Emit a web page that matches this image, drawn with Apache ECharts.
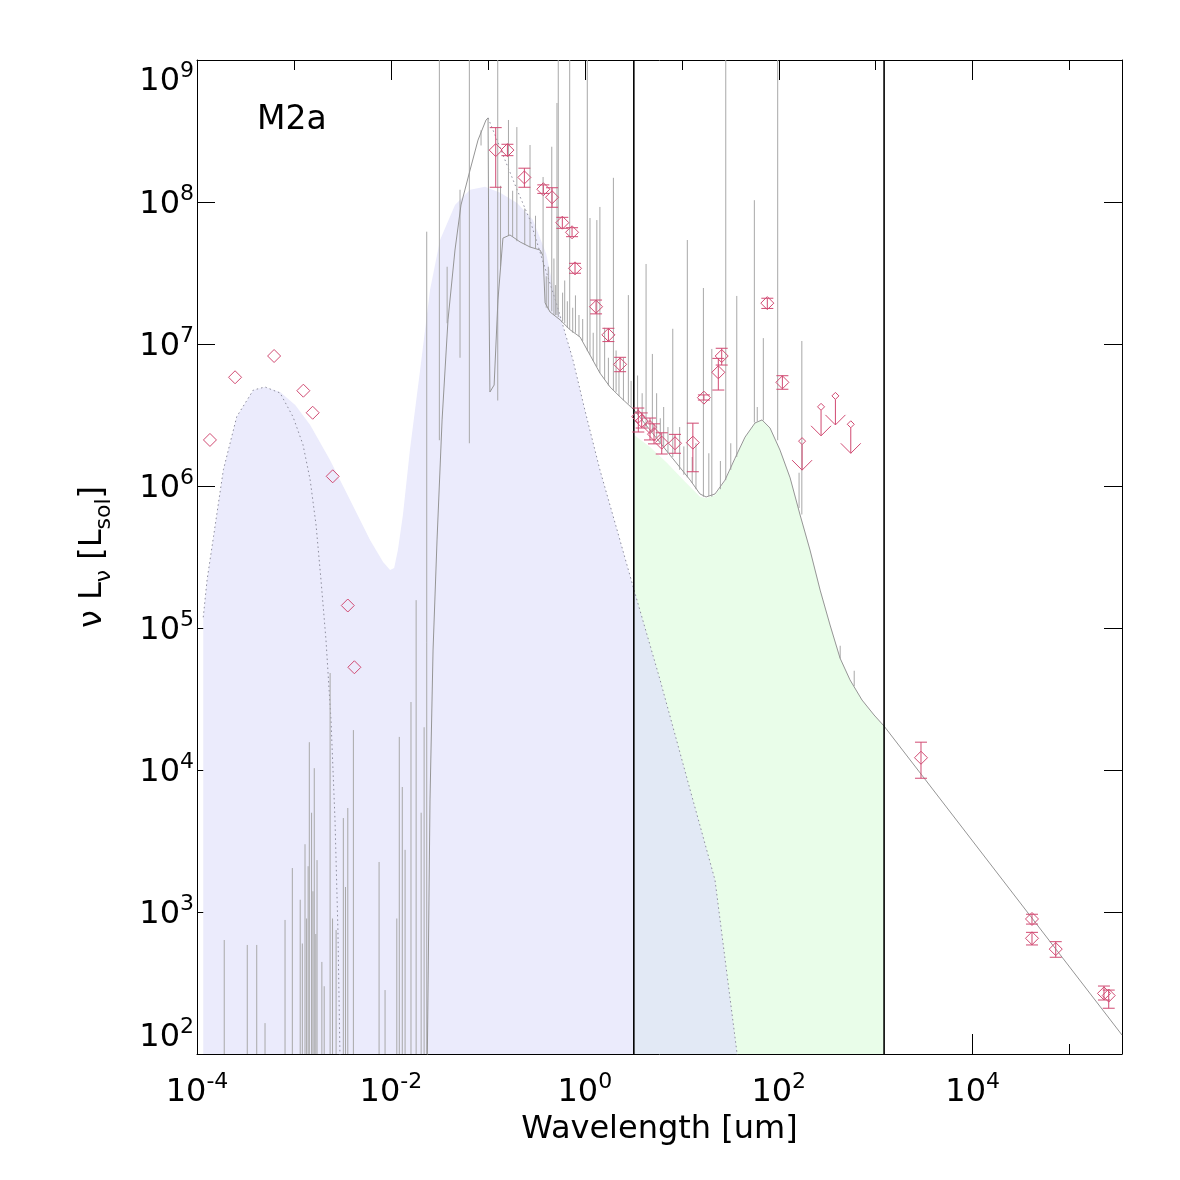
<!DOCTYPE html>
<html><head><meta charset="utf-8">
<script src="https://cdn.jsdelivr.net/npm/echarts@6/dist/echarts.min.js"></script>
<style>html,body{margin:0;padding:0;background:#fff}#c{width:1180px;height:1180px}</style>
</head><body><div id="c"></div>
<script>
// ---------------- DATA (wavelength in um, nu L_nu in L_sol) ----------------
const xTickExponents = [-4, -2, 0, 2, 4];
const yTickExponents = [2, 3, 4, 5, 6, 7, 8, 9];
const bandEdges = [3.2, 1220];

// total model continuum (grey line)
const totalModel = [[0.0236,65],[0.0253,6.15e3],[0.0272,7.0e4],[0.0299,4.17e5],[0.0337,2.92e6],[0.0388,1.48e7],[0.0458,4.59e7],[0.0528,9.53e7],[0.0655,1.68e8],[0.0791,2.73e8],[0.0957,3.78e8],[0.1004,3.91e8],[0.1028,2.04e7],[0.105,4.59e6],[0.116,5.14e6],[0.127,2.04e7],[0.143,5.57e7],[0.169,5.86e7],[0.215,5.23e7],[0.272,4.82e7],[0.345,4.59e7],[0.371,4.17e7],[0.389,1.95e7],[0.438,1.68e7],[0.555,1.48e7],[0.703,1.26e7],[0.893,1.12e7],[1.13,8.37e6],[1.43,6.25e6],[1.82,4.98e6],[2.31,4.24e6],[3.22,3.43e6],[4.70,2.48e6],[7.56,1.65e6],[12.2,1.10e6],[15.4,8.79e5],[17.8,8.37e5],[22.0,8.79e5],[27.9,1.10e6],[35.4,1.57e6],[44.9,2.21e6],[56.9,2.78e6],[67.2,2.92e6],[81.3,2.56e6],[103,1.79e6],[131,1.14e6],[166,6.25e5],[210,3.54e5],[267,1.85e5],[338,1.05e5],[428,6.15e4],[543,4.31e4],[722,3.11e4],[961,2.44e4],[1218,2.04e4],[3.47e5,136]];

// emission / absorption spikes: [wavelength, base, top]
const spikes = [[1.91e-4,10,635],[3.30e-4,10,586],[4.13e-4,10,586],[5.03e-4,10,165],[8.09e-4,10,879],[9.62e-4,10,2.04e3],[1.16e-3,10,1.22e3],[1.22e-3,10,600],[1.30e-3,10,3.0e3],[1.35e-3,10,900],[1.40e-3,10,2.1e3],[1.44e-3,10,1.57e4],[1.52e-3,10,5.0e3],[1.57e-3,10,1.4e3],[1.62e-3,10,1.03e4],[1.68e-3,10,700],[1.73e-3,10,2.32e3],[1.94e-3,10,445],[2.05e-3,10,300],[2.36e-3,10,4.82e4],[2.50e-3,10,900],[2.72e-3,10,747],[3.23e-3,10,4.59e3],[3.40e-3,10,1.5e3],[3.59e-3,10,5.40e3],[4.10e-3,10,1.91e4],[7.55e-3,10,2.25e3],[8.70e-3,10,282],[1.15e-2,10,900],[1.22e-2,10,1.71e4],[1.31e-2,10,7.59e3],[1.40e-2,10,2.74e3],[1.61e-2,10,3.01e4],[1.82e-2,10,1.57e5],[2.05e-2,10,5.0e3],[2.20e-2,10,2.0e4],
[0.0234,100,6.18e7],[0.0316,2.1e6,1e9],[0.0380,1.4e7,3.5e7],[0.0516,8e6,1.22e8],[0.0644,2e6,1e9],[0.085,2.5e8,3.2e8],[0.1264,4e6,1e9],[0.135,3.5e7,1.3e8],[0.163,5.8e7,3.78e8],[0.18,5.7e7,1.2e8],[0.199,5.3e7,3.37e8],[0.24,5.0e7,9e7],[0.272,4.8e7,2.52e8],[0.31,4.7e7,8e7],[0.371,4.2e7,1.50e8],[0.40,1.8e7,3.0e7],[0.42,1.75e7,3.5e7],[0.456,1.7e7,2.45e8],[0.48,1.6e7,4.0e7],[0.50,1.6e7,2.6e7],[0.516,1.6e7,4.98e8],[0.532,1.55e7,1e9],[0.59,1.45e7,2.3e7],[0.62,1.4e7,2.8e7],[0.66,1.3e7,2.0e7],[0.698,1.27e7,1e9],[0.75,1.2e7,1.8e7],[0.80,1.2e7,2.2e7],[0.87,1.13e7,1.6e7],[0.95,1.05e7,1.5e7],[1.06,8.9e6,1e9],[1.13,8.4e6,7.71e7],[1.22,7.6e6,1.2e7],[1.33,6.9e6,7.46e7],[1.43,6.25e6,9.23e7],[1.6,5.6e6,1.3e7],[1.75,5.1e6,8e6],[1.97,4.7e6,1.48e8],[2.1,4.6e6,9e6],[2.25,4.3e6,6.5e6],[2.5,4.0e6,8e6],[2.81,3.8e6,2.21e7],[3.0,3.6e6,5.5e6],[3.5,3.2e6,6e6],[3.9,2.9e6,4.5e6],[4.28,2.6e6,3.66e7],[4.97,2.4e6,8.51e6],[5.5,2.2e6,4.5e6],[6.0,2.0e6,3.0e6],[6.5,1.9e6,3.6e6],[7.2,1.7e6,2.6e6],[8.07,1.6e6,1.28e7],[9.5,1.3e6,2.6e6],[10.5,1.2e6,1.9e6],[11.4,1.15e6,5.4e7],[12.8,1.05e6,1.6e6],[14,9.5e5,2e6],[16.7,8.4e5,2.48e7],[19,8.5e5,1.7e6],[20.4,8.4e5,9.23e6],[25,9.5e5,1.5e6],[28.4,1.1e6,1e9],[32,1.3e6,2.0e6],[36.9,1.6e6,2.18e7],[56.0,2.8e6,1.03e8],[60,2.85e6,3.6e6],[69.3,2.9e6,1.10e7],[97.5,2.1e6,1e9],[162,7e5,1.24e6],[173,6.3e5,1.05e7],[430,6.1e4,7.5e4],[600,3.9e4,5.0e4]];

// intrinsic stellar + X-ray component (lavender fill top)
const stellarFill = [[1.16e-4,1.19e5],[1.27e-4,2.18e5],[1.48e-4,4.40e5],[1.87e-4,1.30e6],[2.57e-4,3.08e6],[3.81e-4,4.74e6],[5.03e-4,4.98e6],[7.19e-4,4.59e6],[1.03e-3,3.72e6],[1.47e-3,2.69e6],[2.36e-3,1.52e6],[3.79e-3,7.96e5],[6.09e-3,4.17e5],[8.30e-3,2.92e5],[9.80e-3,2.56e5],[1.08e-2,2.65e5],[1.18e-2,3.54e5],[1.33e-2,6.25e5],[1.57e-2,1.79e6],[2.00e-2,6.56e6],[2.53e-2,2.40e7],[3.21e-2,5.40e7],[4.58e-2,9.53e7],[6.55e-2,1.22e8],[9.35e-2,1.28e8],[0.134,1.16e8],[0.200,9.84e7],[0.292,7.46e7],[0.40,4.3e7],[0.516,1.88e7],[0.755,7.71e6],[1.00,3.43e6],[1.43,1.30e6],[2.15,4.90e5],[3.22,1.85e5],[5.97,4.31e4],[12.2,7.23e3],[22.0,1.68e3],[37.2,100],[41.9,47]];

// X-ray component (dotted)
const xrayComponent = [[1.16e-4,1.19e5],[1.27e-4,2.18e5],[1.48e-4,4.40e5],[1.87e-4,1.30e6],[2.57e-4,3.08e6],[3.81e-4,4.74e6],[5.03e-4,4.98e6],[7.19e-4,4.52e6],[9.8e-4,3.06e6],[1.24e-3,1.95e6],[1.47e-3,1.10e6],[1.69e-3,5.31e5],[1.90e-3,2.18e5],[2.14e-3,8.22e4],[2.41e-3,2.25e4],[2.65e-3,4.45e3],[2.84e-3,747],[2.98e-3,100],[3.05e-3,47]];

// hot stellar component (dotted)
const hotComponent = [[0.1004,3.91e8],[0.1186,2.96e8],[0.150,1.98e8],[0.200,1.22e8],[0.272,7.46e7],[0.371,3.78e7],[0.516,1.88e7],[0.755,7.71e6],[1.00,3.43e6],[1.43,1.30e6],[2.15,4.90e5],[3.22,1.85e5],[5.97,4.31e4],[12.2,7.23e3],[22.0,1.68e3],[37.2,100],[41.9,47]];

// dust component (green fill top)
const dustComponent = [[3.22,2.29e6],[4.70,1.88e6],[7.05,1.45e6],[10.8,1.07e6],[15.4,8.4e5],[17.8,8.2e5],[22.0,8.6e5],[27.9,1.08e6],[35.4,1.55e6],[44.9,2.2e6],[56.9,2.78e6],[67.2,2.92e6],[81.3,2.56e6],[103,1.79e6],[131,1.14e6],[166,6.25e5],[210,3.54e5],[267,1.85e5],[338,1.05e5],[428,6.15e4],[543,4.31e4],[722,3.11e4],[961,2.44e4],[1218,2.04e4]];

// observations
const obsNoError = [[1.36e-4,2.11e6],[2.47e-4,5.83e6],[6.24e-4,8.23e6],[1.25e-3,4.69e6],[1.56e-3,3.28e6],[2.51e-3,1.17e6],[3.59e-3,1.44e5],[4.20e-3,5.29e4]];
// [wavelength, value, low, high]
const obsDetections = [[0.1205,2.32e8,1.27e8,3.34e8],[0.159,2.32e8,2.12e8,2.55e8],[0.238,1.49e8,1.27e8,1.73e8],[0.373,1.23e8,1.15e8,1.32e8],[0.459,1.08e8,9.18e7,1.26e8],[0.586,7.15e7,6.53e7,7.80e7],[0.738,6.12e7,5.70e7,6.59e7],[0.792,3.41e7,3.15e7,3.70e7],[1.305,1.83e7,1.63e7,2.04e7],[1.75,1.16e7,1.04e7,1.29e7],[2.31,7.19e6,6.38e6,8.06e6],[3.56,3.08e6,2.40e6,3.54e6],[3.86,2.87e6,2.56e6,3.27e6],[4.70,2.60e6,2.11e6,3.01e6],[5.17,2.32e6,1.98e6,2.74e6],[6.21,2.02e6,1.68e6,2.37e6],[8.51,2.00e6,1.70e6,2.31e6],[13.0,2.02e6,1.26e6,2.77e6],[16.9,4.19e6,4.03e6,4.38e6],[23.8,6.32e6,4.74e6,7.92e6],[25.8,8.23e6,7.11e6,9.33e6],[76.2,1.94e7,1.78e7,2.10e7],[109,5.37e6,4.80e6,5.98e6],[2930,1.22e4,8.75e3,1.57e4],[4.09e4,893,822,964],[4.09e4,653,586,719],[7.19e4,548,480,618],[2.26e5,267,240,301],[2.53e5,258,210,282]];
const obsUpperLimits = [[174,2.07e6],[273,3.61e6],[384,4.31e6],[553,2.72e6]];

// ---------------- CHART ----------------
const L10 = Math.log10;
const toXY = p => [L10(p[0]), L10(p[1])];
const FONT = 'DejaVu Sans';
const RED = '#d14a72';
const XMIN = -4, XMAX = 5.54, YMIN = 2, YMAX = 9;

const rich = {
  b: {fontSize: 32, lineHeight: 38, verticalAlign: 'bottom', fontFamily: FONT, color: '#000'},
  s: {fontSize: 22, lineHeight: 22, verticalAlign: 'top', fontFamily: FONT, color: '#000'}
};
function expLabel(list) {
  return function (v) {
    const r = Math.round(v);
    if (Math.abs(v - r) > 1e-6 || list.indexOf(r) < 0) return '';
    return '{b|10}{s|' + r + '}';
  };
}
function xAxisDef(pos, interval, len, withLabels, withLine) {
  const ax = {
    type: 'value', position: pos, min: XMIN, max: XMAX, interval: interval,
    axisLine: {show: withLine, onZero: false, lineStyle: {color: '#000', width: 1}},
    axisTick: {show: true, inside: true, length: len, lineStyle: {color: '#000', width: 1}},
    axisLabel: {show: withLabels, formatter: expLabel(xTickExponents), rich: rich, margin: 17, showMaxLabel: false},
    splitLine: {show: false}
  };
  if (withLabels) {
    ax.name = 'Wavelength [um]';
    ax.nameLocation = 'middle';
    ax.nameGap = 52;
    ax.nameTextStyle = {fontSize: 32, fontFamily: FONT, color: '#000'};
  }
  return ax;
}
function yAxisDef(pos, withLabels) {
  const ax = {
    type: 'value', position: pos, min: YMIN, max: YMAX, interval: 1,
    axisLine: {show: true, onZero: false, lineStyle: {color: '#000', width: 1}},
    axisTick: {show: true, inside: true, length: 18, lineStyle: {color: '#000', width: 1}},
    axisLabel: {show: withLabels, formatter: expLabel(yTickExponents), rich: rich, margin: 3,
      verticalAlignMinLabel: 'bottom', verticalAlignMaxLabel: 'top'},
    splitLine: {show: false}
  };
  if (withLabels) {
    ax.name = '{m|ν L}{d|ν}{m| [L}{d|sol}{m|]}';
    ax.nameLocation = 'middle';
    ax.nameGap = 84;
    ax.nameTextStyle = {
      fontFamily: FONT, color: '#000',
      rich: {
        m: {fontSize: 32, lineHeight: 36, verticalAlign: 'top', fontFamily: FONT, color: '#000'},
        d: {fontSize: 22, lineHeight: 22, verticalAlign: 'top', padding: [16, 0, 0, 0], fontFamily: FONT, color: '#000'}
      }
    };
  }
  return ax;
}

function areaSeries(data, color, z) {
  return {type: 'line', data: data.map(toXY), showSymbol: false, silent: true, z: z,
    lineStyle: {width: 0}, areaStyle: {color: color, opacity: 1, origin: 'start'}, clip: true, animation: false};
}
function lineSeries(data, color, type, z) {
  return {type: 'line', data: data.map(toXY), showSymbol: false, silent: true, z: z,
    lineStyle: {width: 1, color: color, type: type}, clip: true, animation: false};
}

const overlapPart = hotComponent.filter(p => p[0] >= bandEdges[0]);

const option = {
  animation: false,
  backgroundColor: '#fff',
  textStyle: {fontFamily: FONT},
  grid: {left: 197, right: 58, top: 60, bottom: 126, containLabel: false},
  xAxis: [xAxisDef('bottom', 1, 10, false, true), xAxisDef('bottom', 2, 20, true, false),
          xAxisDef('top', 1, 10, false, true), xAxisDef('top', 2, 20, false, false)],
  yAxis: [yAxisDef('left', true), yAxisDef('right', false)],
  graphic: [{type: 'text', left: 257, top: 104, z: 100,
    style: {text: 'M2a', fontSize: 33, fontFamily: FONT, fill: '#000'}}],
  series: [
    areaSeries(stellarFill, '#ebebfc', 1),
    areaSeries(dustComponent, '#e9fde9', 2),
    areaSeries(overlapPart, '#e2e9f5', 3),
    lineSeries(xrayComponent, '#8c8c9c', [1.5, 3], 4),
    lineSeries(hotComponent, '#8c8c9c', [1.5, 3], 4),
    {
      type: 'custom', z: 5, silent: true, clip: true,
      data: spikes.map(s => [L10(s[0]), L10(s[1]), L10(s[2])]),
      encode: {x: 0, y: [1, 2]},
      renderItem: function (params, api) {
        const a = api.coord([api.value(0), api.value(1)]);
        const b = api.coord([api.value(0), api.value(2)]);
        return {type: 'line', shape: {x1: a[0], y1: a[1], x2: b[0], y2: b[1]},
          style: {stroke: '#a8a8a8', lineWidth: 1}};
      }
    },
    lineSeries(totalModel, '#959595', 'solid', 6),
    {
      type: 'custom', z: 7, silent: true,
      data: bandEdges.map(v => [L10(v)]),
      encode: {x: 0},
      renderItem: function (params, api) {
        const a = api.coord([api.value(0), YMAX]);
        const b = api.coord([api.value(0), YMIN]);
        return {type: 'line', shape: {x1: a[0], y1: a[1], x2: b[0], y2: b[1]},
          style: {stroke: '#000', lineWidth: 1.6}};
      }
    },
    {
      type: 'custom', z: 8, silent: true,
      data: obsNoError.map(p => [L10(p[0]), L10(p[1]), L10(p[1]), L10(p[1])])
        .concat(obsDetections.map(p => [L10(p[0]), L10(p[1]), L10(p[2]), L10(p[3])])),
      encode: {x: 0, y: 1},
      renderItem: function (params, api) {
        const x = api.value(0);
        const c = api.coord([x, api.value(1)]);
        const lo = api.coord([x, api.value(2)]);
        const hi = api.coord([x, api.value(3)]);
        const s = 6.5, cap = 6;
        const st = {stroke: RED, lineWidth: 1, fill: null};
        const kids = [{type: 'polygon',
          shape: {points: [[c[0], c[1] - s], [c[0] + s, c[1]], [c[0], c[1] + s], [c[0] - s, c[1]]]},
          style: {stroke: RED, fill: 'none', lineWidth: 1}}];
        if (Math.abs(lo[1] - hi[1]) > 0.5) {
          kids.push({type: 'line', shape: {x1: c[0], y1: hi[1], x2: c[0], y2: lo[1]}, style: st});
          kids.push({type: 'line', shape: {x1: c[0] - cap, y1: hi[1], x2: c[0] + cap, y2: hi[1]}, style: st});
          kids.push({type: 'line', shape: {x1: c[0] - cap, y1: lo[1], x2: c[0] + cap, y2: lo[1]}, style: st});
        }
        return {type: 'group', children: kids};
      }
    },
    {
      type: 'custom', z: 8, silent: true,
      data: obsUpperLimits.map(toXY),
      encode: {x: 0, y: 1},
      renderItem: function (params, api) {
        const c = api.coord([api.value(0), api.value(1)]);
        const s = 3.5;
        const st = {stroke: RED, lineWidth: 1, fill: 'none'};
        return {type: 'group', children: [
          {type: 'polygon', shape: {points: [[c[0], c[1] - s], [c[0] + s, c[1]], [c[0], c[1] + s], [c[0] - s, c[1]]]}, style: st},
          {type: 'line', shape: {x1: c[0], y1: c[1] + s, x2: c[0], y2: c[1] + 29}, style: st},
          {type: 'polyline', shape: {points: [[c[0] - 10, c[1] + 19], [c[0], c[1] + 29], [c[0] + 10, c[1] + 19]]}, style: st}
        ]};
      }
    }
  ]
};
const chart = echarts.init(document.getElementById('c'));
chart.setOption(option);
</script></body></html>
